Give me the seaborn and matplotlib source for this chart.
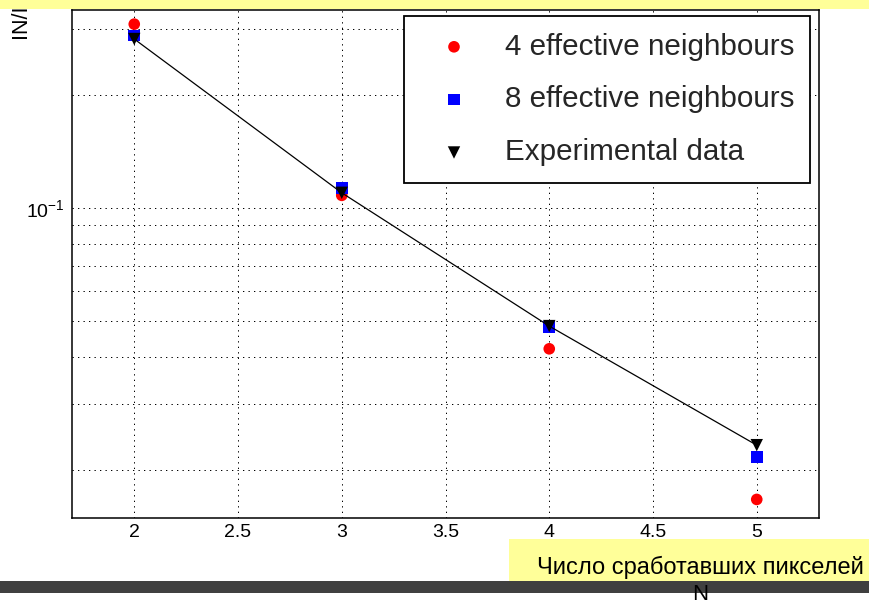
import matplotlib
matplotlib.use("Agg")
import matplotlib.pyplot as plt
import matplotlib.ticker as mticker
from matplotlib.patches import Rectangle
import seaborn as sns

# Fraction of events vs. number of fired pixels
n_pixels = [2, 3, 4, 5]
ratio_4nb = [0.309, 0.108, 0.0421, 0.0167]
ratio_8nb = [0.288, 0.113, 0.0482, 0.0217]
ratio_exp = [0.282, 0.1097, 0.0484, 0.0233]

series_labels = ["4 effective neighbours", "8 effective neighbours", "Experimental data"]
x_ticks = [2, 2.5, 3, 3.5, 4, 4.5, 5]
x_tick_labels = ["2", "2.5", "3", "3.5", "4", "4.5", "5"]
y_label = "IN/I1"
x_label_main = "Число сработавших пикселей"
x_label_sub = "N"

sns.set_style("white")
plt.rcParams["font.family"] = ["Liberation Sans", "DejaVu Sans"]
plt.rcParams["mathtext.fontset"] = "custom"
plt.rcParams["mathtext.rm"] = "Liberation Sans"
plt.rcParams["mathtext.it"] = "Liberation Sans:italic"
plt.rcParams["mathtext.default"] = "regular"

W, H = 869, 602
fig = plt.figure(figsize=(W / 100, H / 100), dpi=100)
fig.patch.set_facecolor("white")

# axes frame in pixel coordinates
ax_l, ax_r, ax_t, ax_b = 72, 819, 10, 518
ax = fig.add_axes([ax_l / W, 1 - ax_b / H, (ax_r - ax_l) / W, (ax_b - ax_t) / H])
ax.set_facecolor("white")

sns.scatterplot(x=n_pixels, y=ratio_4nb, marker="o", color="#ff0000", s=70,
                edgecolor="none", ax=ax, label=series_labels[0], zorder=3)
sns.scatterplot(x=n_pixels, y=ratio_8nb, marker="s", color="#0000ff", s=70,
                edgecolor="none", ax=ax, label=series_labels[1], zorder=4)
sns.lineplot(x=n_pixels, y=ratio_exp, color="black", lw=0.9, ax=ax,
             legend=False, zorder=5)
sns.scatterplot(x=n_pixels, y=ratio_exp, marker="v", color="black", s=80,
                edgecolor="none", ax=ax, label=series_labels[2], zorder=6)

ax.set_yscale("log")
ax.set_xlim(1.7, 5.3)
ax.set_ylim(0.0149, 0.337)

ax.set_xticks(x_ticks)
ax.set_xticklabels(x_tick_labels)
ax.xaxis.set_minor_locator(mticker.MultipleLocator(0.1))
ax.yaxis.set_major_locator(mticker.LogLocator(base=10, subs=[1.0]))
ax.yaxis.set_major_formatter(mticker.LogFormatterMathtext())
ax.yaxis.set_minor_locator(mticker.LogLocator(base=10, subs=[2, 3, 4, 5, 6, 7, 8, 9]))
ax.yaxis.set_minor_formatter(mticker.NullFormatter())

ax.tick_params(axis="x", which="major", direction="in", length=10.8, width=0.9,
               labelsize=14, pad=4.5, colors="black")
ax.tick_params(axis="x", which="minor", direction="in", length=5.8, width=0.9)
ax.tick_params(axis="y", which="major", direction="in", length=16.5, width=0.9,
               labelsize=14, pad=5, colors="black")
ax.tick_params(axis="y", which="minor", direction="in", length=8.6, width=0.9)
ax.tick_params(top=False, right=False, which="both")

grid_style = dict(color="black", lw=0.72, linestyle=(0, (1.3, 4.2)))
ax.grid(True, axis="x", which="major", **grid_style)
ax.grid(True, axis="y", which="both", **grid_style)
ax.set_axisbelow(True)

for sp in ax.spines.values():
    sp.set_color("black")
    sp.set_linewidth(1.1)

ax.set_xlabel("")
ax.set_ylabel("")

leg = ax.legend(loc="upper left",
                bbox_to_anchor=(404 / W, 1 - 174 / H, (810 - 404) / W, (174 - 16) / H),
                bbox_transform=fig.transFigure, mode="expand", borderaxespad=0,
                fontsize=21.3, frameon=True, fancybox=False, framealpha=1,
                edgecolor="black", borderpad=0.56, handlelength=2.26,
                handletextpad=0.59, labelspacing=0.84, markerscale=1.0)
leg.get_frame().set_linewidth(1.3)

# rotated y label, partly tucked under the top band
fig.text(21 / W, 1 - 38 / H, y_label, rotation=90, ha="center", va="bottom",
         fontsize=15.5, color="black")

# page decoration: top band, caption box, bottom bar
fig.patches.append(Rectangle((0, 1 - 9.3 / H), 1, 9.3 / H, transform=fig.transFigure,
                             facecolor="#ffff99", edgecolor="none", zorder=10))
fig.patches.append(Rectangle((509 / W, 1 - 581 / H), (W - 509) / W, 42 / H,
                             transform=fig.transFigure, facecolor="#ffff99",
                             edgecolor="none", zorder=10))
fig.patches.append(Rectangle((0, 1 - 593 / H), 1, 12 / H, transform=fig.transFigure,
                             facecolor="#404040", edgecolor="none", zorder=10))
fig.text(864 / W, 1 - 567 / H, x_label_main, ha="right", va="center",
         fontsize=17, color="black", zorder=11)
fig.text(700 / W, 1 - 600.5 / H, x_label_sub, ha="center", va="baseline",
         fontsize=16, color="black", zorder=11)

fig.savefig("out.png", dpi=100)
